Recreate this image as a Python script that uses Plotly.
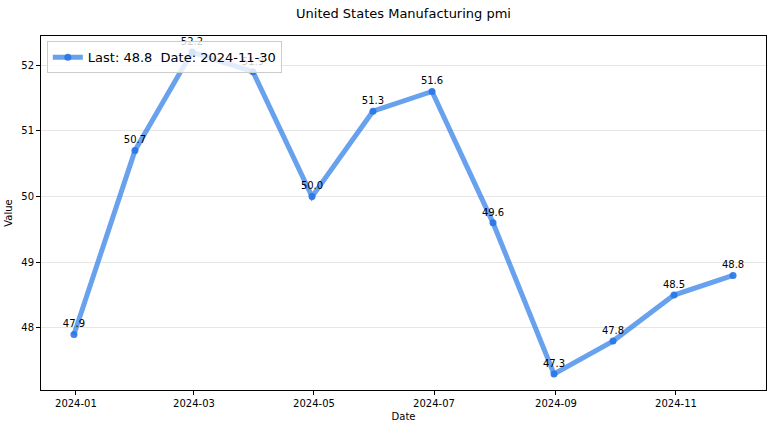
import plotly.graph_objects as go

dates = ["2023-12-31", "2024-01-31", "2024-02-29", "2024-03-31", "2024-04-30", "2024-05-31",
         "2024-06-30", "2024-07-31", "2024-08-31", "2024-09-30", "2024-10-31", "2024-11-30"]
values = [47.9, 50.7, 52.2, 51.9, 50.0, 51.3, 51.6, 49.6, 47.3, 47.8, 48.5, 48.8]
tick_vals = ["2024-01-01", "2024-03-01", "2024-05-01", "2024-07-01", "2024-09-01", "2024-11-01"]
tick_text = ["2024-01", "2024-03", "2024-05", "2024-07", "2024-09", "2024-11"]
y_ticks = [48, 49, 50, 51, 52]

font = "DejaVu Sans"
fig = go.Figure()
fig.add_trace(go.Scatter(
    x=dates, y=values, mode="lines+markers",
    line=dict(color="rgba(30,115,230,0.67)", width=5),
    marker=dict(color="rgba(40,118,228,0.9)", size=7),
    name=f"Last: {values[-1]}  Date: {dates[-1]}",
))
fig.add_trace(go.Scatter(
    x=dates, y=values, mode="markers+text", text=[f"{v:.1f}" for v in values],
    textposition="top center", marker=dict(size=6, opacity=0),
    textfont=dict(family=font, size=10, color="black"), showlegend=False, hoverinfo="skip",
))

fig.update_layout(
    width=773, height=428,
    margin=dict(l=41, r=7, t=36, b=38),
    paper_bgcolor="white", plot_bgcolor="white",
    font=dict(family=font, size=10, color="black"),
    title=dict(text="United States Manufacturing pmi", x=0.5, xref="paper", xanchor="center",
               y=1 - 13 / 428, yanchor="middle", font=dict(family=font, size=13)),
    showlegend=True,
    legend=dict(x=0.008, y=0.985, xanchor="left", yanchor="top",
                bgcolor="rgba(255,255,255,0.8)", bordercolor="#cccccc", borderwidth=1,
                font=dict(family=font, size=13), itemwidth=30, tracegroupgap=0),
    xaxis=dict(range=["2023-12-14 06:00", "2024-12-16 18:00"], type="date",
               tickvals=tick_vals, ticktext=tick_text, showgrid=False,
               showline=True, mirror=True, linecolor="black", linewidth=1,
               ticks="outside", ticklen=4, tickcolor="black",
               title=dict(text="Date", font=dict(size=10), standoff=4), zeroline=False),
    yaxis=dict(range=[47.055, 52.445], tickvals=y_ticks, showgrid=True, gridcolor="#e6e6e6",
               showline=True, mirror=True, linecolor="black", linewidth=1,
               ticks="outside", ticklen=4, tickcolor="black",
               title=dict(text="Value", font=dict(size=10), standoff=6), zeroline=False),
)
fig.write_html("out.html")
